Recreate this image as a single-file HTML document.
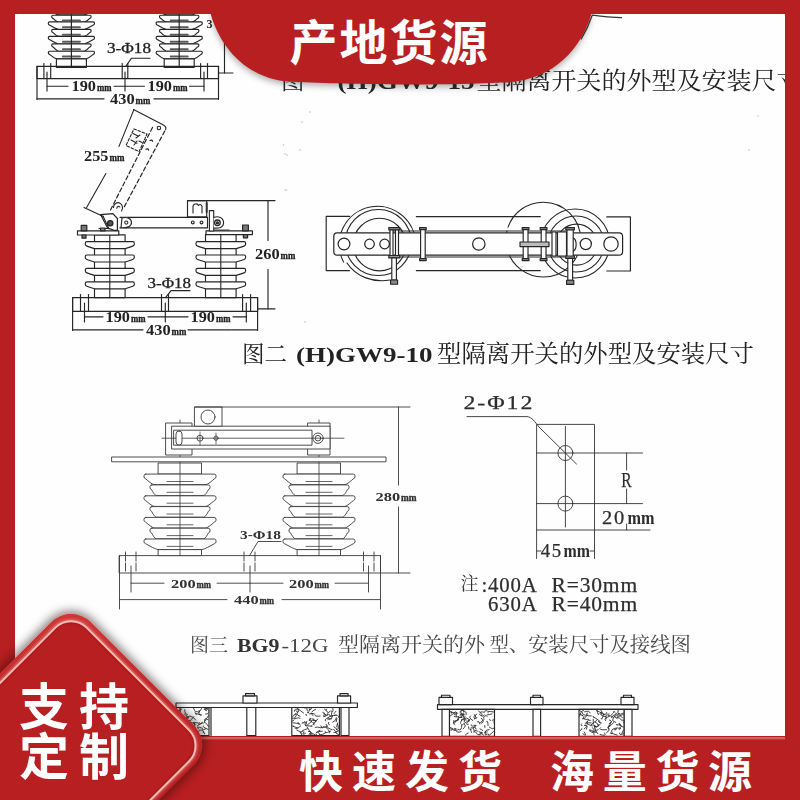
<!DOCTYPE html>
<html><head><meta charset="utf-8"><title>GW9</title>
<style>
html,body{margin:0;padding:0}
body{width:800px;height:800px;overflow:hidden;position:relative;background:#fefefe;font-family:"Liberation Serif",serif}
svg{position:absolute;left:0;top:0;display:block}
#frame{position:absolute;left:0;top:0;width:770px;height:722px;border-style:solid;border-color:#b81f20;border-width:14px 15px 64px 15px;pointer-events:none}
#badge{position:absolute;left:-30.5px;top:643.5px;width:202px;height:202px;border-radius:28px;transform:rotate(45deg);background:linear-gradient(135deg,#cf3a38 0%,#c12626 35%,#b21d1e 100%);box-shadow:0 0 10px 3px rgba(30,10,10,.5)}
#badge i{position:absolute;left:5.5px;top:5.5px;right:5.5px;bottom:5.5px;border-radius:23px;border:2px solid #f4bab5;background:#b81f20;box-shadow:0 0 3px 1px rgba(255,200,200,.45),inset 0 0 3px rgba(110,0,0,.5)}
</style></head><body>
<svg id="dw" width="800" height="800" viewBox="0 0 800 800"><g fill="none" stroke="#262626" stroke-width="1.15" stroke-linecap="round" stroke-linejoin="round" style="filter:blur(.35px)">
<path d="M49.6 7.3H93.2Q94.5 7.3 94.5 8.6L94.5 8.8Q94.5 10.2 92.9 10.7C89.95 12.46 86.62 14.3 84.4 14.9H58.4C56.18 14.3 52.85 12.46 49.9 10.7Q48.3 10.2 48.3 8.8L48.3 8.6Q48.3 7.3 49.6 7.3Z" fill="#fefefe"/><path d="M53 15.2H89.8Q91.1 15.2 91.1 16.5L91.1 16.7Q91.1 18.1 89.5 18.6C88.09 20.11 85.87 21.6 84.4 22.2H58.4C56.93 21.6 54.72 20.11 53.3 18.6Q51.7 18.1 51.7 16.7L51.7 16.5Q51.7 15.2 53 15.2Z" fill="#fefefe"/><path d="M49.6 21.9H93.2Q94.5 21.9 94.5 23.2L94.5 23.4Q94.5 24.8 92.9 25.3C89.95 27.06 86.62 28.9 84.4 29.5H58.4C56.18 28.9 52.85 27.06 49.9 25.3Q48.3 24.8 48.3 23.4L48.3 23.2Q48.3 21.9 49.6 21.9Z" fill="#fefefe"/><path d="M53 29.4H89.8Q91.1 29.4 91.1 30.7L91.1 30.9Q91.1 32.3 89.5 32.8C88.09 34.31 85.87 35.8 84.4 36.4H58.4C56.93 35.8 54.72 34.31 53.3 32.8Q51.7 32.3 51.7 30.9L51.7 30.7Q51.7 29.4 53 29.4Z" fill="#fefefe"/><path d="M49.6 36.4H93.2Q94.5 36.4 94.5 37.7L94.5 37.9Q94.5 39.3 92.9 39.8C89.95 41.56 86.62 43.4 84.4 44H58.4C56.18 43.4 52.85 41.56 49.9 39.8Q48.3 39.3 48.3 37.9L48.3 37.7Q48.3 36.4 49.6 36.4Z" fill="#fefefe"/><path d="M53 43.8H89.8Q91.1 43.8 91.1 45.1L91.1 45.3Q91.1 46.7 89.5 47.2C88.09 48.88 85.87 50.6 84.4 51.2H58.4C56.93 50.6 54.72 48.88 53.3 47.2Q51.7 46.7 51.7 45.3L51.7 45.1Q51.7 43.8 53 43.8Z" fill="#fefefe"/><path d="M49.6 51.2H93.2Q94.5 51.2 94.5 52.5L94.5 52.7Q94.5 54.1 92.9 54.6C90.86 56.36 88.18 58.2 86.4 58.8H56.4C54.62 58.2 51.95 56.36 49.9 54.6Q48.3 54.1 48.3 52.7L48.3 52.5Q48.3 51.2 49.6 51.2Z" fill="#fefefe"/><path d="M62.9 12.7L79.9 12.7" stroke-width="2.0" stroke="#5a5a5a"/><path d="M62.9 20.6L79.9 20.6" stroke-width="2.0" stroke="#5a5a5a"/><path d="M62.9 27.3L79.9 27.3" stroke-width="2.0" stroke="#5a5a5a"/><path d="M62.9 34.8L79.9 34.8" stroke-width="2.0" stroke="#5a5a5a"/><path d="M62.9 41.8L79.9 41.8" stroke-width="2.0" stroke="#5a5a5a"/><path d="M62.9 49.2L79.9 49.2" stroke-width="2.0" stroke="#5a5a5a"/><path d="M62.9 56.6L79.9 56.6" stroke-width="2.0" stroke="#5a5a5a"/><rect x="56.4" y="58.8" width="30" height="8.7" fill="#fefefe"/><path d="M71.4 14L71.4 67.5" stroke-width="1.2"/><path d="M157.4 7.3H201Q202.3 7.3 202.3 8.6L202.3 8.8Q202.3 10.2 200.7 10.7C197.75 12.46 194.42 14.3 192.2 14.9H166.2C163.98 14.3 160.64 12.46 157.7 10.7Q156.1 10.2 156.1 8.8L156.1 8.6Q156.1 7.3 157.4 7.3Z" fill="#fefefe"/><path d="M160.8 15.2H197.6Q198.9 15.2 198.9 16.5L198.9 16.7Q198.9 18.1 197.3 18.6C195.88 20.11 193.67 21.6 192.2 22.2H166.2C164.73 21.6 162.51 20.11 161.1 18.6Q159.5 18.1 159.5 16.7L159.5 16.5Q159.5 15.2 160.8 15.2Z" fill="#fefefe"/><path d="M157.4 21.9H201Q202.3 21.9 202.3 23.2L202.3 23.4Q202.3 24.8 200.7 25.3C197.75 27.06 194.42 28.9 192.2 29.5H166.2C163.98 28.9 160.64 27.06 157.7 25.3Q156.1 24.8 156.1 23.4L156.1 23.2Q156.1 21.9 157.4 21.9Z" fill="#fefefe"/><path d="M160.8 29.4H197.6Q198.9 29.4 198.9 30.7L198.9 30.9Q198.9 32.3 197.3 32.8C195.88 34.31 193.67 35.8 192.2 36.4H166.2C164.73 35.8 162.51 34.31 161.1 32.8Q159.5 32.3 159.5 30.9L159.5 30.7Q159.5 29.4 160.8 29.4Z" fill="#fefefe"/><path d="M157.4 36.4H201Q202.3 36.4 202.3 37.7L202.3 37.9Q202.3 39.3 200.7 39.8C197.75 41.56 194.42 43.4 192.2 44H166.2C163.98 43.4 160.64 41.56 157.7 39.8Q156.1 39.3 156.1 37.9L156.1 37.7Q156.1 36.4 157.4 36.4Z" fill="#fefefe"/><path d="M160.8 43.8H197.6Q198.9 43.8 198.9 45.1L198.9 45.3Q198.9 46.7 197.3 47.2C195.88 48.88 193.67 50.6 192.2 51.2H166.2C164.73 50.6 162.51 48.88 161.1 47.2Q159.5 46.7 159.5 45.3L159.5 45.1Q159.5 43.8 160.8 43.8Z" fill="#fefefe"/><path d="M157.4 51.2H201Q202.3 51.2 202.3 52.5L202.3 52.7Q202.3 54.1 200.7 54.6C198.65 56.36 195.98 58.2 194.2 58.8H164.2C162.42 58.2 159.75 56.36 157.7 54.6Q156.1 54.1 156.1 52.7L156.1 52.5Q156.1 51.2 157.4 51.2Z" fill="#fefefe"/><path d="M170.7 12.7L187.7 12.7" stroke-width="2.0" stroke="#5a5a5a"/><path d="M170.7 20.6L187.7 20.6" stroke-width="2.0" stroke="#5a5a5a"/><path d="M170.7 27.3L187.7 27.3" stroke-width="2.0" stroke="#5a5a5a"/><path d="M170.7 34.8L187.7 34.8" stroke-width="2.0" stroke="#5a5a5a"/><path d="M170.7 41.8L187.7 41.8" stroke-width="2.0" stroke="#5a5a5a"/><path d="M170.7 49.2L187.7 49.2" stroke-width="2.0" stroke="#5a5a5a"/><path d="M170.7 56.6L187.7 56.6" stroke-width="2.0" stroke="#5a5a5a"/><rect x="164.2" y="58.8" width="30" height="8.7" fill="#fefefe"/><path d="M179.2 14L179.2 67.5" stroke-width="1.2"/><path d="M37 66.3H218.5V78.6H37Z"/><path d="M37 66.3L37 99.5"/><path d="M218.5 66.3L218.5 99.5"/><path d="M43.9 63.5L43.9 78.6"/><path d="M50.7 63.5L50.7 78.6"/><path d="M122.2 63.5L122.2 78.6"/><path d="M127.8 63.5L127.8 78.6"/><path d="M200.6 63.5L200.6 78.6"/><path d="M207.5 63.5L207.5 78.6"/><path d="M47 72L47 91"/><path d="M125 72L125 91"/><path d="M204 72L204 91"/><path d="M47 86.2L68 86.2"/><path d="M114 86.2L125 86.2"/><path d="M125 86.2L144.5 86.2"/><path d="M189.5 86.2L204 86.2"/><path d="M37 98.8L104 98.8"/><path d="M154 98.8L218.5 98.8"/><text x="71.5" y="91.2" font-size="15.5" font-weight="bold" font-family="Liberation Serif" fill="#222" stroke="none" textLength="24.4" lengthAdjust="spacingAndGlyphs">190</text><text x="96.9" y="91.2" font-size="10.85" font-weight="bold" font-family="Liberation Serif" fill="#222" stroke="none" textLength="14.6" lengthAdjust="spacingAndGlyphs" style="stroke:#222;stroke-width:.35px">mm</text><text x="147.5" y="91.2" font-size="15.5" font-weight="bold" font-family="Liberation Serif" fill="#222" stroke="none" textLength="24.4" lengthAdjust="spacingAndGlyphs">190</text><text x="172.9" y="91.2" font-size="10.85" font-weight="bold" font-family="Liberation Serif" fill="#222" stroke="none" textLength="14.6" lengthAdjust="spacingAndGlyphs" style="stroke:#222;stroke-width:.35px">mm</text><text x="110" y="103.6" font-size="15.5" font-weight="bold" font-family="Liberation Serif" fill="#222" stroke="none" textLength="24.6" lengthAdjust="spacingAndGlyphs">430</text><text x="135.6" y="103.6" font-size="10.85" font-weight="bold" font-family="Liberation Serif" fill="#222" stroke="none" textLength="14.8" lengthAdjust="spacingAndGlyphs" style="stroke:#222;stroke-width:.35px">mm</text><text x="107" y="52.6" font-size="14.5" font-weight="normal" font-family="Liberation Serif" fill="#222" stroke="none" textLength="44" lengthAdjust="spacingAndGlyphs" style="stroke:#222;stroke-width:0.3px">3-Φ18</text><path d="M150 58.2H131.5L126 66"/><path d="M224.5 14L224.5 73"/><path d="M218.5 73L233 73"/><text x="206.5" y="28" font-size="13" font-weight="bold" font-family="Liberation Serif" fill="#222" stroke="none" textLength="6" lengthAdjust="spacingAndGlyphs">3</text><path d="M72.6 297.6H257.6V311.4H72.6Z"/><path d="M72.6 297.6L72.6 330.5"/><path d="M257.6 297.6L257.6 330.5"/><path d="M80.5 294.5L80.5 311.4"/><path d="M88.5 294.5L88.5 311.4"/><path d="M161.5 294.5L161.5 311.4"/><path d="M168.5 294.5L168.5 311.4"/><path d="M242.6 294.5L242.6 311.4"/><path d="M250.6 294.5L250.6 311.4"/><path d="M84.5 303L84.5 322"/><path d="M165.3 303L165.3 322"/><path d="M246.3 303L246.3 322"/><path d="M84.5 316.8L103 316.8"/><path d="M148 316.8L165.3 316.8"/><path d="M165.3 316.8L188 316.8"/><path d="M233 316.8L246.3 316.8"/><path d="M72.6 329.8L143 329.8"/><path d="M188 329.8L257.6 329.8"/><text x="105.5" y="321.6" font-size="15.5" font-weight="bold" font-family="Liberation Serif" fill="#222" stroke="none" textLength="24.4" lengthAdjust="spacingAndGlyphs">190</text><text x="130.9" y="321.6" font-size="10.85" font-weight="bold" font-family="Liberation Serif" fill="#222" stroke="none" textLength="14.6" lengthAdjust="spacingAndGlyphs" style="stroke:#222;stroke-width:.35px">mm</text><text x="190.5" y="321.6" font-size="15.5" font-weight="bold" font-family="Liberation Serif" fill="#222" stroke="none" textLength="24.4" lengthAdjust="spacingAndGlyphs">190</text><text x="215.9" y="321.6" font-size="10.85" font-weight="bold" font-family="Liberation Serif" fill="#222" stroke="none" textLength="14.6" lengthAdjust="spacingAndGlyphs" style="stroke:#222;stroke-width:.35px">mm</text><text x="146" y="334.6" font-size="15.5" font-weight="bold" font-family="Liberation Serif" fill="#222" stroke="none" textLength="24.6" lengthAdjust="spacingAndGlyphs">430</text><text x="171.6" y="334.6" font-size="10.85" font-weight="bold" font-family="Liberation Serif" fill="#222" stroke="none" textLength="14.8" lengthAdjust="spacingAndGlyphs" style="stroke:#222;stroke-width:.35px">mm</text><text x="147.5" y="287.6" font-size="14.5" font-weight="normal" font-family="Liberation Serif" fill="#222" stroke="none" textLength="43.5" lengthAdjust="spacingAndGlyphs" style="stroke:#222;stroke-width:0.3px">3-Φ18</text><path d="M190 290.6H171L165.5 297.6"/><rect x="94.5" y="234.8" width="30.6" height="62.8" fill="#fefefe"/><path d="M86.9 241.6H132.7Q134.3 241.6 134.3 243.2L134.3 244.2Q134.3 245.6 132.7 246.1C130.16 247.15 127.12 248 125.1 248.6H94.5C92.48 248 89.44 247.15 86.9 246.1Q85.3 245.6 85.3 244.2L85.3 243.2Q85.3 241.6 86.9 241.6Z" fill="#fefefe"/><path d="M86.9 255H132.7Q134.3 255 134.3 256.6L134.3 257.6Q134.3 259 132.7 259.5C130.16 260.55 127.12 261.4 125.1 262H94.5C92.48 261.4 89.44 260.55 86.9 259.5Q85.3 259 85.3 257.6L85.3 256.6Q85.3 255 86.9 255Z" fill="#fefefe"/><path d="M86.9 268.4H132.7Q134.3 268.4 134.3 270L134.3 271Q134.3 272.4 132.7 272.9C130.16 273.95 127.12 274.8 125.1 275.4H94.5C92.48 274.8 89.44 273.95 86.9 272.9Q85.3 272.4 85.3 271L85.3 270Q85.3 268.4 86.9 268.4Z" fill="#fefefe"/><path d="M86.9 281.8H132.7Q134.3 281.8 134.3 283.4L134.3 284.4Q134.3 285.8 132.7 286.3C130.16 287.35 127.12 288.2 125.1 288.8H94.5C92.48 288.2 89.44 287.35 86.9 286.3Q85.3 285.8 85.3 284.4L85.3 283.4Q85.3 281.8 86.9 281.8Z" fill="#fefefe"/><path d="M109.8 234.8L109.8 297.6" stroke-width="1.1"/><rect x="205.5" y="234.4" width="30.6" height="63.2" fill="#fefefe"/><path d="M197.6 241.6H244Q245.6 241.6 245.6 243.2L245.6 244.2Q245.6 245.6 244 246.1C241.33 247.15 238.19 248 236.1 248.6H205.5C203.41 248 200.28 247.15 197.6 246.1Q196 245.6 196 244.2L196 243.2Q196 241.6 197.6 241.6Z" fill="#fefefe"/><path d="M197.6 255H244Q245.6 255 245.6 256.6L245.6 257.6Q245.6 259 244 259.5C241.33 260.55 238.19 261.4 236.1 262H205.5C203.41 261.4 200.28 260.55 197.6 259.5Q196 259 196 257.6L196 256.6Q196 255 197.6 255Z" fill="#fefefe"/><path d="M197.6 268.4H244Q245.6 268.4 245.6 270L245.6 271Q245.6 272.4 244 272.9C241.33 273.95 238.19 274.8 236.1 275.4H205.5C203.41 274.8 200.28 273.95 197.6 272.9Q196 272.4 196 271L196 270Q196 268.4 197.6 268.4Z" fill="#fefefe"/><path d="M197.6 281.8H244Q245.6 281.8 245.6 283.4L245.6 284.4Q245.6 285.8 244 286.3C241.33 287.35 238.19 288.2 236.1 288.8H205.5C203.41 288.2 200.28 287.35 197.6 286.3Q196 285.8 196 284.4L196 283.4Q196 281.8 197.6 281.8Z" fill="#fefefe"/><path d="M220.8 234.4L220.8 297.6" stroke-width="1.1"/><path d="M77.5 230.8H118.8V235H77.5Z" fill="#fefefe"/><path d="M206 230.8H252.4V234.6H206Z" fill="#fefefe"/><rect x="81.2" y="225.4" width="5.6" height="5.4" stroke-width="1.2" fill="#777"/><rect x="82" y="235" width="4" height="3.2" stroke-width="1.2" fill="#777"/><rect x="242.6" y="225" width="5.8" height="5.8" stroke-width="1.2" fill="#777"/><rect x="243.4" y="234.6" width="4.2" height="3.2" stroke-width="1.2" fill="#777"/><path d="M120 217.3H207.5V227.8H120" fill="#fefefe"/><path d="M122 218C127 216.5 131.5 218.5 131.5 222.6C131.5 226.5 127 228.5 121 227.5Z" fill="#fefefe"/><circle cx="126.3" cy="222.6" r="1.6" stroke-width="1.1"/><circle cx="192.8" cy="222.4" r="1.4"/><circle cx="201.5" cy="222.4" r="1.4"/><path d="M100.6 214.6L112.9 213.6L117.4 218.5V230.4H114L107.4 227.8Z" stroke-width="1.2" fill="#fefefe"/><path d="M103 216L109 229" stroke-width="1.1"/><circle cx="110.2" cy="223.2" r="2.6" stroke-width="1.4" fill="#555"/><path d="M99 228.5H108" stroke-width="1.2"/><rect x="100.5" y="228" width="4.5" height="2.8" fill="#888"/><path d="M187.5 200.6H206.7V216.8H187.5Z" fill="#fefefe"/><path d="M193 213V206.5C193 203.5 197.5 203 198.5 205.5C200 203.5 203 205 202 208.5V213" stroke-width="1.1"/><path d="M206.7 203V212" stroke-width="2" stroke="#333"/><path d="M209.4 210.6H213.7V231H209.4Z" stroke-width="1.1" fill="#fefefe"/><path d="M213.7 217.5C218 215.5 223.6 217.5 223.6 222.8C223.6 227 220 228.5 213.7 228" stroke-width="1.1" fill="#fefefe"/><circle cx="217.4" cy="222.8" r="2.8" stroke-width="1.3"/><circle cx="217.4" cy="222.8" r="1.1" fill="#444"/><path d="M214 230.2H229" stroke-width="1.6" stroke="#444"/><path d="M110.5 210L153.1 126.3" stroke-width="1.2" stroke-dasharray="4.2 2.6"/><path d="M124.3 206.8L165.6 129.5" stroke-width="1.2" stroke-dasharray="4.2 2.6"/><path d="M133.5 109.6L162.5 124.6C165.5 126 166.6 127.6 165.6 129.8" stroke-width="1.1"/><circle cx="158.9" cy="128" r="1.7" stroke-width="1.1"/><path d="M113.5 207.5C113.5 203.5 117.5 201.5 120.3 203.4C123 205.3 123 208.8 121.5 211" stroke-width="1.1"/><path d="M116.8 208.3C117 206.4 118.8 205.8 119.8 207"/><path d="M133.9 128.9L147 134.1L139.1 151.6L126 145.5Z" stroke-width="1.1" stroke-dasharray="2.6 1.8"/><path d="M133 133.5l5 2.4M136 138l4 -3M131 140l6 3.2M134 145l3 -4M139 141l3 1.5" stroke-width="1.1"/><path d="M150 140.5q2 -1.2 2.6 .8M146 149.3q2 -1.2 2.6 .8" stroke-width="1.2"/><path d="M133.9 109.6L119 146.4" stroke-width="1.1"/><path d="M105.9 173.5L86.6 207.6" stroke-width="1.1"/><path d="M84 207.4L103.3 216.4" stroke-width="1.1"/><text x="84" y="161.4" font-size="15.5" font-weight="bold" font-family="Liberation Serif" fill="#222" stroke="none" textLength="24.4" lengthAdjust="spacingAndGlyphs">255</text><text x="109.4" y="161.4" font-size="10.85" font-weight="bold" font-family="Liberation Serif" fill="#222" stroke="none" textLength="15" lengthAdjust="spacingAndGlyphs" style="stroke:#222;stroke-width:.35px">mm</text><path d="M187.5 200.6L275 200.6"/><path d="M257.6 308.8L275 308.8"/><path d="M268 200.6L268 240.5"/><path d="M268 269.5L268 308.8"/><text x="255" y="258.8" font-size="15.5" font-weight="bold" font-family="Liberation Serif" fill="#222" stroke="none" textLength="24.6" lengthAdjust="spacingAndGlyphs">260</text><text x="280.6" y="258.8" font-size="10.85" font-weight="bold" font-family="Liberation Serif" fill="#222" stroke="none" textLength="14.8" lengthAdjust="spacingAndGlyphs" style="stroke:#222;stroke-width:.35px">mm</text><path d="M349.5 216.4H326.2V270.6H349.5"/><path d="M416.3 216.6H540.3M416.3 270.6H540.3"/><path d="M606.8 216.9H630.4V271H606.8"/><path d="M343.5 262A38.2 38.2 0 1 1 415.5 248" stroke-width="1.1"/><circle cx="378.3" cy="242.5" r="33" stroke-width="1.1"/><circle cx="379.5" cy="244.6" r="26.3" stroke-width="1.1"/><path d="M347 263C356 277 374 283 390 280"/><circle cx="543.3" cy="239.6" r="37.4" stroke-width="1.1" stroke-dasharray="108 4 5 4 5 4 200"/><circle cx="575.2" cy="243.5" r="34.5" stroke-width="1.1"/><circle cx="576" cy="244" r="28" stroke-width="1.1"/><circle cx="576.6" cy="244.6" r="20.5" stroke-width="1.1"/><path d="M337 232.8H619Q622.6 232.8 622.6 236.5V251.5Q622.6 255.2 619 255.2H337Q333.8 255.2 333.8 251.5V236.5Q333.8 232.8 337 232.8Z" stroke-width="1.2" fill="#fefefe"/><path d="M390 231H573M390 257H573" stroke-width="1.1"/><circle cx="344" cy="244" r="5.9" stroke-width="1.2" fill="#fefefe"/><circle cx="369.5" cy="244" r="4.8" stroke-width="1.2" fill="#fefefe"/><circle cx="384.6" cy="244" r="4.8" stroke-width="1.2" fill="#fefefe"/><circle cx="478.8" cy="244" r="6.2" stroke-width="1.2" fill="#fefefe"/><circle cx="585.8" cy="244" r="5.6" stroke-width="1.2" fill="#fefefe"/><circle cx="611" cy="244" r="7.2" stroke-width="1.2" fill="#fefefe"/><rect x="390" y="229" width="3" height="27" fill="#fefefe"/><rect x="395.5" y="229" width="3" height="27" fill="#fefefe"/><rect x="388.8" y="227.6" width="11" height="2.2" fill="#999"/><rect x="388.8" y="255.5" width="11" height="2.4" fill="#999"/><rect x="391.8" y="258" width="4.6" height="22" fill="#fefefe"/><rect x="390.6" y="280" width="7" height="4.2" fill="#888"/><rect x="420.6" y="229" width="4.6" height="30" fill="#fefefe"/><rect x="419.6" y="227.6" width="6.6" height="2" fill="#999"/><rect x="419.6" y="258.6" width="6.6" height="2" fill="#999"/><rect x="523.2" y="229" width="4.8" height="30" fill="#fefefe"/><rect x="522.2" y="227.6" width="6.8" height="2" fill="#999"/><rect x="522.2" y="258.6" width="6.8" height="2" fill="#999"/><rect x="541.2" y="229" width="4.8" height="30" fill="#fefefe"/><rect x="540.2" y="227.6" width="6.8" height="2" fill="#999"/><rect x="540.2" y="258.6" width="6.8" height="2" fill="#999"/><rect x="520" y="242" width="29" height="4.6" fill="#bbb"/><rect x="552" y="232" width="4" height="24" fill="#fefefe"/><rect x="557.5" y="232" width="9" height="24" fill="#fefefe"/><rect x="567" y="229" width="6.2" height="28" fill="#fefefe"/><rect x="565.8" y="227.6" width="8.6" height="2.2" fill="#999"/><rect x="565.8" y="256" width="8.6" height="2.4" fill="#999"/><rect x="567.8" y="258.4" width="4.8" height="22" fill="#fefefe"/><rect x="566.6" y="280.2" width="7.2" height="4.2" fill="#888"/><path d="M573.5 238C577 240 577 249 573.5 251"/><g stroke="#3a3a3a" stroke-width="0.9"><path d="M119.5 555.6H380.5V573H119.5Z"/><path d="M119.5 555.6L119.5 609"/><path d="M380.5 555.6L380.5 609"/><path d="M125.5 552L125.5 571" stroke-dasharray="9 2"/><path d="M136 552L136 571" stroke-dasharray="9 2"/><path d="M244 552L244 571" stroke-dasharray="9 2"/><path d="M255 552L255 571" stroke-dasharray="9 2"/><path d="M363.5 552L363.5 571" stroke-dasharray="9 2"/><path d="M374 552L374 571" stroke-dasharray="9 2"/><path d="M131 566L131 592"/><path d="M250 566L250 592"/><path d="M368.5 566L368.5 592"/><path d="M131 583.2L164 583.2"/><path d="M217 583.2L250 583.2"/><path d="M250 583.2L283 583.2"/><path d="M335 583.2L368.5 583.2"/><path d="M119.5 599.6L227 599.6"/><path d="M282 599.6L380.5 599.6"/><rect x="158.5" y="463" width="43" height="11" stroke-width="0.9" fill="#fefefe"/><path d="M145.8 474.1H214.2Q216 474.1 216 475.9L216 476.9Q216 478.3 214.4 478.8C211.5 481.28 208.2 484.1 206 484.7H154C151.8 484.1 148.5 481.28 145.6 478.8Q144 478.3 144 476.9L144 475.9Q144 474.1 145.8 474.1Z" stroke-width="0.9" fill="#fefefe"/><path d="M151.8 484.9H208.2Q210 484.9 210 486.7L210 487.7Q210 489.1 208.4 489.6C207.3 492.08 205.32 494.9 204 495.5H156C154.68 494.9 152.7 492.08 151.6 489.6Q150 489.1 150 487.7L150 486.7Q150 484.9 151.8 484.9Z" stroke-width="0.9" fill="#fefefe"/><path d="M145.8 495.8H214.2Q216 495.8 216 497.6L216 498.6Q216 500 214.4 500.5C211.5 502.98 208.2 505.8 206 506.4H154C151.8 505.8 148.5 502.98 145.6 500.5Q144 500 144 498.6L144 497.6Q144 495.8 145.8 495.8Z" stroke-width="0.9" fill="#fefefe"/><path d="M151.8 506.6H208.2Q210 506.6 210 508.4L210 509.4Q210 510.8 208.4 511.3C207.3 513.78 205.32 516.6 204 517.2H156C154.68 516.6 152.7 513.78 151.6 511.3Q150 510.8 150 509.4L150 508.4Q150 506.6 151.8 506.6Z" stroke-width="0.9" fill="#fefefe"/><path d="M145.8 517.4H214.2Q216 517.4 216 519.2L216 520.2Q216 521.6 214.4 522.1C211.5 524.58 208.2 527.4 206 528H154C151.8 527.4 148.5 524.58 145.6 522.1Q144 521.6 144 520.2L144 519.2Q144 517.4 145.8 517.4Z" stroke-width="0.9" fill="#fefefe"/><path d="M151.8 528.2H208.2Q210 528.2 210 530L210 531Q210 532.4 208.4 532.9C207.3 535.38 205.32 538.2 204 538.8H156C154.68 538.2 152.7 535.38 151.6 532.9Q150 532.4 150 531L150 530Q150 528.2 151.8 528.2Z" stroke-width="0.9" fill="#fefefe"/><path d="M145.8 539H214.2Q216 539 216 540.8L216 541.8Q216 543.2 214.4 543.7C209.7 546.18 205.08 549 202 549.6H158C154.92 549 150.3 546.18 145.6 543.7Q144 543.2 144 541.8L144 540.8Q144 539 145.8 539Z" stroke-width="0.9" fill="#fefefe"/><path d="M167 481.5L193 481.5" stroke="#555"/><path d="M167 492.3L193 492.3" stroke="#555"/><path d="M167 503.2L193 503.2" stroke="#555"/><path d="M167 514L193 514" stroke="#555"/><path d="M167 524.8L193 524.8" stroke="#555"/><path d="M167 535.6L193 535.6" stroke="#555"/><path d="M167 546.4L193 546.4" stroke="#555"/><rect x="158.5" y="549.6" width="43" height="6" stroke-width="0.9" fill="#fefefe"/><path d="M180 420L180 555.6" stroke-width="0.8"/><rect x="297.5" y="463" width="43" height="11" stroke-width="0.9" fill="#fefefe"/><path d="M284.8 474.1H353.2Q355 474.1 355 475.9L355 476.9Q355 478.3 353.4 478.8C350.5 481.28 347.2 484.1 345 484.7H293C290.8 484.1 287.5 481.28 284.6 478.8Q283 478.3 283 476.9L283 475.9Q283 474.1 284.8 474.1Z" stroke-width="0.9" fill="#fefefe"/><path d="M290.8 484.9H347.2Q349 484.9 349 486.7L349 487.7Q349 489.1 347.4 489.6C346.3 492.08 344.32 494.9 343 495.5H295C293.68 494.9 291.7 492.08 290.6 489.6Q289 489.1 289 487.7L289 486.7Q289 484.9 290.8 484.9Z" stroke-width="0.9" fill="#fefefe"/><path d="M284.8 495.8H353.2Q355 495.8 355 497.6L355 498.6Q355 500 353.4 500.5C350.5 502.98 347.2 505.8 345 506.4H293C290.8 505.8 287.5 502.98 284.6 500.5Q283 500 283 498.6L283 497.6Q283 495.8 284.8 495.8Z" stroke-width="0.9" fill="#fefefe"/><path d="M290.8 506.6H347.2Q349 506.6 349 508.4L349 509.4Q349 510.8 347.4 511.3C346.3 513.78 344.32 516.6 343 517.2H295C293.68 516.6 291.7 513.78 290.6 511.3Q289 510.8 289 509.4L289 508.4Q289 506.6 290.8 506.6Z" stroke-width="0.9" fill="#fefefe"/><path d="M284.8 517.4H353.2Q355 517.4 355 519.2L355 520.2Q355 521.6 353.4 522.1C350.5 524.58 347.2 527.4 345 528H293C290.8 527.4 287.5 524.58 284.6 522.1Q283 521.6 283 520.2L283 519.2Q283 517.4 284.8 517.4Z" stroke-width="0.9" fill="#fefefe"/><path d="M290.8 528.2H347.2Q349 528.2 349 530L349 531Q349 532.4 347.4 532.9C346.3 535.38 344.32 538.2 343 538.8H295C293.68 538.2 291.7 535.38 290.6 532.9Q289 532.4 289 531L289 530Q289 528.2 290.8 528.2Z" stroke-width="0.9" fill="#fefefe"/><path d="M284.8 539H353.2Q355 539 355 540.8L355 541.8Q355 543.2 353.4 543.7C348.7 546.18 344.08 549 341 549.6H297C293.92 549 289.3 546.18 284.6 543.7Q283 543.2 283 541.8L283 540.8Q283 539 284.8 539Z" stroke-width="0.9" fill="#fefefe"/><path d="M306 481.5L332 481.5" stroke="#555"/><path d="M306 492.3L332 492.3" stroke="#555"/><path d="M306 503.2L332 503.2" stroke="#555"/><path d="M306 514L332 514" stroke="#555"/><path d="M306 524.8L332 524.8" stroke="#555"/><path d="M306 535.6L332 535.6" stroke="#555"/><path d="M306 546.4L332 546.4" stroke="#555"/><rect x="297.5" y="549.6" width="43" height="6" stroke-width="0.9" fill="#fefefe"/><path d="M319 420L319 555.6" stroke-width="0.8"/><path d="M112 457H386V461.8H112Z" fill="#fefefe"/><rect x="166" y="423" width="26" height="32" stroke-width="0.9" fill="#fefefe"/><rect x="308" y="423" width="22" height="32" stroke-width="0.9" fill="#fefefe"/><rect x="172" y="426.2" width="158" height="22.8" stroke-width="0.9" fill="#fefefe"/><rect x="174" y="430.2" width="138" height="15" stroke-width="0.9"/><path d="M162 438.2L344 438.2" stroke-width="0.8"/><rect x="176" y="431" width="6" height="14" stroke-width="0.9" fill="#fefefe" rx="3"/><circle cx="200" cy="438.2" r="3" stroke-width="0.9"/><circle cx="216" cy="438.2" r="2.1" stroke-width="0.9"/><path d="M200 432L200 445" stroke-width="0.7"/><path d="M216 433L216 444" stroke-width="0.7"/><circle cx="318" cy="438.2" r="5.2" stroke-width="0.9"/><circle cx="318" cy="438.2" r="2.8" stroke-width="0.9"/><rect x="194.8" y="407" width="27.2" height="19.2" stroke-width="0.9" fill="#fefefe"/><circle cx="208" cy="417" r="7" stroke-width="0.9"/><path d="M194.8 407L410 407"/><path d="M398.5 407L398.5 485"/><path d="M398.5 507L398.5 573"/><path d="M380.5 573L410 573"/><path d="M281 541.5H258L249.5 555.6"/></g><text x="171" y="587.6" font-size="13.5" font-weight="bold" font-family="Liberation Serif" fill="#333" stroke="none" textLength="24.6" lengthAdjust="spacingAndGlyphs">200</text><text x="196.6" y="587.6" font-size="9.45" font-weight="bold" font-family="Liberation Serif" fill="#333" stroke="none" textLength="14.5" lengthAdjust="spacingAndGlyphs" style="stroke:#333;stroke-width:.35px">mm</text><text x="289" y="587.6" font-size="13.5" font-weight="bold" font-family="Liberation Serif" fill="#333" stroke="none" textLength="24.6" lengthAdjust="spacingAndGlyphs">200</text><text x="314.6" y="587.6" font-size="9.45" font-weight="bold" font-family="Liberation Serif" fill="#333" stroke="none" textLength="14.5" lengthAdjust="spacingAndGlyphs" style="stroke:#333;stroke-width:.35px">mm</text><text x="234" y="604" font-size="13.5" font-weight="bold" font-family="Liberation Serif" fill="#333" stroke="none" textLength="24.6" lengthAdjust="spacingAndGlyphs">440</text><text x="259.6" y="604" font-size="9.45" font-weight="bold" font-family="Liberation Serif" fill="#333" stroke="none" textLength="14.5" lengthAdjust="spacingAndGlyphs" style="stroke:#333;stroke-width:.35px">mm</text><text x="375.5" y="501" font-size="13.5" font-weight="bold" font-family="Liberation Serif" fill="#333" stroke="none" textLength="24.6" lengthAdjust="spacingAndGlyphs">280</text><text x="401.1" y="501" font-size="9.45" font-weight="bold" font-family="Liberation Serif" fill="#333" stroke="none" textLength="15.5" lengthAdjust="spacingAndGlyphs" style="stroke:#333;stroke-width:.35px">mm</text><text x="240" y="539.4" font-size="12.5" font-weight="bold" font-family="Liberation Serif" fill="#333" stroke="none" textLength="41" lengthAdjust="spacingAndGlyphs">3-Φ18</text><g stroke="#333" stroke-width="0.9"><path d="M536.6 558.5V424.4H594.5V558.5"/><path d="M565.4 426.5L565.4 527"/><path d="M536.6 453L642.5 453"/><path d="M536.6 503.6L642.5 503.6"/><path d="M536.6 530L650 530"/><circle cx="565.4" cy="453" r="7.5"/><circle cx="565.4" cy="503.6" r="7.5"/><path d="M467 416.6H527C532 417 535 422 539 427L576.5 464"/><path d="M626.6 453L626.6 470"/><path d="M626.6 489L626.6 503.6"/><path d="M626.6 524L626.6 530"/><path d="M536.6 551L541 551"/><path d="M590 551L594.5 551"/></g><text x="463.4" y="408.6" font-size="19.5" font-weight="normal" font-family="Liberation Serif" fill="#2e2e2e" stroke="none" textLength="71" lengthAdjust="spacingAndGlyphs" style="stroke:#2e2e2e;stroke-width:.25px" letter-spacing="1.6">2-Φ12</text><text x="621.2" y="486.5" font-size="20" font-weight="normal" font-family="Liberation Serif" fill="#2e2e2e" stroke="none" textLength="11" lengthAdjust="spacingAndGlyphs" style="stroke:#2e2e2e;stroke-width:.25px" letter-spacing="0.8">R</text><text x="602" y="524" font-size="18.5" font-weight="normal" font-family="Liberation Serif" fill="#2e2e2e" stroke="none" textLength="24" lengthAdjust="spacingAndGlyphs" style="stroke:#2e2e2e;stroke-width:.25px" letter-spacing="1.6">20</text><text x="627.5" y="524" font-size="18.5" font-weight="bold" font-family="Liberation Serif" fill="#2e2e2e" stroke="none" textLength="27" lengthAdjust="spacingAndGlyphs">mm</text><text x="540.8" y="557" font-size="18.5" font-weight="normal" font-family="Liberation Serif" fill="#2e2e2e" stroke="none" textLength="22" lengthAdjust="spacingAndGlyphs" style="stroke:#2e2e2e;stroke-width:.25px" letter-spacing="1.6">45</text><text x="563.5" y="557" font-size="18.5" font-weight="bold" font-family="Liberation Serif" fill="#2e2e2e" stroke="none" textLength="26.5" lengthAdjust="spacingAndGlyphs">mm</text><text x="481.5" y="591.6" font-size="20.5" font-weight="normal" font-family="Liberation Serif" fill="#2e2e2e" stroke="none" textLength="56" lengthAdjust="spacingAndGlyphs" style="stroke:#2e2e2e;stroke-width:.25px" letter-spacing="0.8">:400A</text><text x="551.5" y="591.6" font-size="20.5" font-weight="normal" font-family="Liberation Serif" fill="#2e2e2e" stroke="none" textLength="86.5" lengthAdjust="spacingAndGlyphs" style="stroke:#2e2e2e;stroke-width:.25px" letter-spacing="0.8">R=30mm</text><text x="488" y="611" font-size="20.5" font-weight="normal" font-family="Liberation Serif" fill="#2e2e2e" stroke="none" textLength="49.5" lengthAdjust="spacingAndGlyphs" style="stroke:#2e2e2e;stroke-width:.25px" letter-spacing="0.8">630A</text><text x="551.5" y="611" font-size="20.5" font-weight="normal" font-family="Liberation Serif" fill="#2e2e2e" stroke="none" textLength="86.5" lengthAdjust="spacingAndGlyphs" style="stroke:#2e2e2e;stroke-width:.25px" letter-spacing="0.8">R=40mm</text><path d="M176 703H357.4V707.5H176Z" fill="#fefefe"/><rect x="243" y="695.8" width="14" height="7.2" fill="#fefefe"/><rect x="245.5" y="693.6" width="9" height="2.2" fill="#fefefe"/><rect x="337.5" y="695.8" width="13.1" height="7.2" fill="#fefefe"/><rect x="340" y="693.6" width="8.1" height="2.2" fill="#fefefe"/><rect x="246.8" y="707.5" width="9" height="28" fill="#fefefe"/><rect x="341" y="707.5" width="8" height="28" fill="#fefefe"/><rect x="180" y="707.5" width="29" height="28" fill="#fefefe"/><path d="M184.63 730.53q2.64 -1.96 -0.05 -0.51M198.59 729.01q-4.06 -3.77 4.03 -0.67M201.58 708.55q-0.55 1.77 -3.25 4.45M205.34 709.3q-4.75 0.33 3.16 -1.19M186.85 719.48q-4.71 -2.23 -0.75 -0.04M187.29 714.5q-2.81 -0.32 -2.52 -4.79M203.61 722.97q1.42 -2.51 4.89 3.6M184.26 717.15q2.21 1.69 5.24 -0.78M203.41 725.93q-1.97 0.7 4.59 3.46M194.64 723.81q-4.65 -2.06 3.57 -0.86M185.67 722.77q2.03 1.4 -1.5 -0.61M194.73 728.74q0.21 -0.85 -0.12 -4.7M182.17 726.79q4.83 0.75 -1.28 -3.3M194.56 734.03q2.71 0.32 4.32 -2.68M194.87 733.26q0.78 -0.33 -2.77 0.48M206.84 708.65q2.84 2.56 1.66 2.41M202.85 721.99q0.61 -0.59 -5.33 3.7M196.39 713.7q0.05 -0.12 -1.72 -1.54M195.54 724.71q1.12 -0.33 -5.66 -2.7M185.78 723.7q3.61 2.39 3.57 3.16M187.89 730.39q1.73 -3.33 -5.8 -4.85M201.4 714.99q-3.91 1 -1.87 -4.3M185.31 722.21q-3.32 -1.82 2.54 -0.45M189.69 720.82q-4.76 -0.91 -0.95 -3.12M183.94 731.9q0.1 -2.33 1.27 3.1M181.56 708.96q-3.54 1.75 -1.06 2.05M199.31 722.66q-2.79 3.8 3.57 0.17M187.03 725.36q-1.05 0.61 -2.15 1.31M182.59 716.26q4.68 3 -2.09 3.59M189.38 732.92q2.44 -0.67 -2.97 -4.92M204.73 709.49q3.19 3.7 0.84 -1.49M204.43 733.82q2.04 0.07 -1.46 -1.53M186.56 726.03q-0.67 -2.45 -4.75 1.66M188.99 721.49q-1.75 2.97 4.8 -4.82M186.42 717.02q4.87 2.26 -1.93 -2.87M199.21 730.28q4.32 -1.25 4.59 1.87M194.08 734.12q-2.65 1.8 -4.98 -3.3M205.6 714.04q2.59 0.8 2.9 -1.32M190.19 716.07q3.67 0.83 5.45 3.87M184.65 722.83q-3.96 -3.69 -4.15 3.66M202.28 730.04q-1.59 0.92 3.38 -1.22M196.41 714.32q-4.18 -1.87 4.69 0.64M205.98 720.4q-2.23 2.3 2.52 -4.88M199.1 710.88q-3.85 3.08 -5.52 -2.6M207.68 719.45q-3.84 -2.66 -3.1 2.44M183.78 732.18q-1.22 3.76 4.91 -2.06M187.84 720.9q-4 1.22 -5.52 -4.89" stroke-width="0.9" stroke="#303030"/><path d="M211 707.5L211 735.5"/><rect x="291.8" y="707.5" width="47.6" height="28" fill="#fefefe"/><path d="M336.4 733.14q-4.43 -3.32 2.5 1.86M323.34 716.51q1.06 0.85 0.97 -3.42M312.44 718.73q2.23 3.96 5.39 0.44M313.09 715.47q-4.64 -3.78 -0.42 -1.82M310.13 731.69q0.26 0.48 -3.17 -4.76M307.63 712.05q0.1 3.99 2.09 -3.18M333.55 729.22q2.34 3.25 3.15 2.9M308.93 734.01q4.62 -2.71 3.05 0.99M313.84 722.29q-0.1 3.4 0.01 3.32M308.94 731.45q4 -0.31 0.81 3.55M325.8 721.15q-2.78 -1.4 2.39 -3.34M334.2 715.47q4.11 -1.52 4.7 2.06M315.79 721.96q1.51 0.7 -2.26 -2.92M316.14 732.79q1.23 -3.4 3.84 2.21M334.19 713.48q2.45 -3.53 1.83 -2.27M303.13 731.26q-3.94 0.18 4.25 -2.55M302.4 731.4q-0.77 1.74 -5.62 -1.38M300.64 725.99q-4.17 3.64 -5.7 2.29M293.76 715.15q3.13 -2.74 -1.46 1.91M310.38 709.62q4.9 -2.79 -5.56 -1.56M320.85 727.8q-3.87 -1.3 -5.63 -0.51M327.73 727.74q4.02 2.05 4.35 2.05M314.36 714.36q1.61 -1.47 -4.78 -0.52M332.69 711.82q0.85 -0.86 0.18 -3.56M336.56 715.24q1.06 -0.64 -5.78 0.58M299.21 709.98q-4.66 -2.71 -4.85 1.35M315.98 734.07q4.34 3.96 -3.21 -0.55M304.24 723.87q1.24 2.4 2.51 -2.43M312.09 722.18q-4.95 -3.72 -1.1 -3.89M325.8 714.76q-4 -2.55 -3.22 -2.83M316.55 720.57q-1.9 1.13 -3.45 4.07M336.72 727.45q-0.66 0.09 0.97 -4.49M311.86 722.15q-3.19 -3.25 3.63 -1.34M316.48 732.46q1.11 -1.68 5.8 -1.28M293.67 726.32q-3.99 -1.55 4.09 1.73M293.52 720.24q-0.89 -0.11 -1.22 0.89M296.16 715.89q-1.27 3.48 -3.86 2.55M301.57 723.36q-1.08 -0.29 3.04 -1.05M298.35 711.67q-4.19 2.8 1.69 4.6M324.38 709.14q1.59 2.22 2.68 -0.02M309.11 720.38q2.99 -1.85 0.32 -0.22M336.33 729.41q4.32 2.69 -2.44 -2.68M315.09 715.24q-0.72 1.43 5.02 0.86M330.09 710.99q-1.44 3.98 -4.24 -0.83M295.85 710.74q3.96 3.91 1.78 -2.74M306.32 714.52q1.71 1.45 -0.73 0.24M297.91 722.56q4.5 2.05 -4.85 0.17M325.42 715.19q3.95 -0.31 2.44 -0.96M338.18 728.85q0.73 -2.84 -0.71 -4.71M319.94 731.43q-3.2 0.08 -0.21 -0.95M325.2 732.85q2.05 -0.22 5.54 -1.69M326.8 725.62q2.62 2.82 -3.3 1.21M311.16 725.84q4.77 1.08 -5.86 -0.35M325.25 731.46q1.5 2.53 -5.79 3.54M326.06 724.27q4.05 3.08 -4.79 3.16M327.78 713.69q2.44 0.69 -3.7 3.04M299.09 724.42q-0.66 -1.97 0.79 -0.33M302.15 733.64q-4.27 -3.98 -0.17 1.36M322.82 728.12q-0.15 1.4 -1.98 -2.33M315.73 709.22q-4.2 2.03 -3.92 2.5M328.57 719.02q1.75 2.3 4.37 -3.65M300.21 718.42q-0.35 -1.64 -5.88 0.57M336.89 718.03q0.38 -0.94 -0.69 3.7M306.86 725.38q-0.16 0.31 4.98 -4.23M330.39 716.41q1.46 2.37 1.84 -1.07M331.14 710.92q1.33 -0.87 0.37 3.51M329.18 724.85q-1.92 -2.14 -0.51 -2.68M305.45 733.4q-3.88 2.55 -1.45 -1.35M307.32 710.51q-0.43 -2.67 -0.7 -2.08M333.59 732.47q-0.58 1.12 5.16 -1.74M297.34 714.68q-3.1 1.43 -1.51 -1.44M329.06 714.56q3.09 1.06 -1.2 3.24M308.41 731.34q4.26 0.02 2.28 3.66M326.66 728.03q3.69 3.48 3.04 4.79M306.1 724.68q1.71 -1.06 -1.26 -3.25M336.47 717.7q-0.23 3.15 -3.76 4.61M298.59 709.23q-1.49 -1.13 5.01 3.83M327.53 719.85q0.43 -2.11 4 -1.1" stroke-width="0.9" stroke="#303030"/><path d="M437.5 704.6H638V709.3H437.5Z" fill="#fefefe"/><rect x="439" y="697.4" width="13.5" height="7.2" fill="#fefefe"/><rect x="441.5" y="695.2" width="8.5" height="2.2" fill="#fefefe"/><rect x="530.5" y="697.4" width="12.5" height="7.2" fill="#fefefe"/><rect x="533" y="695.2" width="7.5" height="2.2" fill="#fefefe"/><rect x="621" y="697.4" width="13" height="7.2" fill="#fefefe"/><rect x="623.5" y="695.2" width="8" height="2.2" fill="#fefefe"/><rect x="442" y="709.3" width="7.5" height="27" fill="#fefefe"/><rect x="533" y="709.3" width="7.6" height="27" fill="#fefefe"/><rect x="624" y="709.3" width="8" height="27" fill="#fefefe"/><rect x="449.5" y="709.3" width="45" height="27" fill="#fefefe"/><path d="M460.73 723.47q-1.3 0.83 1.51 -4.34M451.07 730.57q-2.41 -2.13 5.95 -0.3M486.47 721.83q1.39 -2.8 1.62 3.68M473 728.24q1.71 -3.49 3.1 0.91M463.45 711.05q3.66 -0.22 2.63 3.79M481.21 732.59q-1.05 2.41 -0.66 2.41M488.29 712.66q-3.64 -2.26 5.59 -0.64M477.45 717.58q0.07 -0.91 -1.79 0.85M475.62 732.18q1.82 3.43 4.28 2.82M479.36 714.25q3.61 3.72 4.86 0.69M481.19 715.41q3.32 0.59 -2.58 -4.37M487.22 734.25q-4.11 2.4 -1.07 -3.49M463.14 728.9q3.73 -3.65 1.37 -4.55M481.39 718.31q3.81 3.85 0.07 4.99M463.82 712.16q1 -3.75 -3.63 -0.92M476.75 714.08q-4.58 2.94 -2.23 4.59M489.06 719.44q-0.4 0.16 1.73 0.96M474.55 725.31q4.41 0.06 -0.83 2.2M460.72 717.59q4.78 0.17 0.58 -4.89M468.35 724.34q-4.8 0.93 1.59 -4.4M477.48 721.58q1.79 -1.18 2.48 2.38M451.45 711.77q1.76 3.71 -1.45 -0.44M475.98 718.04q-1.36 -1.5 -1.57 0.96M463.42 719.43q2.72 -3.78 0.83 2.35M463.83 715.69q3.04 -2.09 -3.75 -0.65M480.52 712.76q-1.78 -1.33 4 -0.62M487.29 714.4q-1.63 1.2 4.62 -0.49M460.18 713.23q0.3 -2.47 3.68 3.38M458.39 717.04q3.07 1.14 3.68 -1.55M456.08 717.37q2.94 -1.83 -1.84 -0.83M468.55 720.21q4.21 -2.75 -5.94 4.43M488.34 734.18q-0.66 3.6 5.13 -2.78M482.56 730.55q1.63 0.15 -2.53 -1.59M460.28 711.95q0.89 -1.7 3.72 -2.15M489.36 727.09q4.24 3.17 4.64 0.77M451.07 728.34q-3.28 -1.6 1.95 0.25M468.29 733.02q1.12 -1.27 -2.97 1.98M471.02 729.23q-1.48 -2.42 0.42 3.17M457.87 729.46q4.22 2.45 3.88 -4.92M477.53 731.17q-4.5 -1.83 -2.78 0.27M468.69 721.74q2.76 -3.99 -5.34 -3.73M455.86 711.96q4.75 2.84 -4.97 0.02M464.08 717.91q-1.49 1.18 1.04 -1.39M458.72 718.26q-3.76 0.44 2.59 -1.2M453.94 714.62q-1.27 0.84 3.39 -1.2M484.95 725.37q-0.68 -1.02 -0.05 2.03M468.58 727.1q-0.39 -2.04 0.43 1.95M453.58 720.58q-0.74 3.04 5.24 -1.26M489.11 729.44q-2.38 -0.29 -4.52 3.13M478.98 731.77q2.92 1.34 2.8 0.64M454.93 724.52q-4.95 -2.85 3.29 -4.56M454.45 712.7q3.8 -2.57 -4.45 3.42M455.72 730.72q1.74 2.69 5.43 0.79M484.85 711.18q2.67 0.09 2.58 -1.38M482.71 732.92q-4.39 -1.41 0.77 2.08M460.91 714.65q-2.5 0.93 3.04 -1.06M466.3 719.9q-1.5 -0.65 -5 0M492.34 720.29q2.47 -2.72 1.66 2.56M479.48 722.81q-0.16 1.14 4.77 -3.51M454.62 728.41q4.17 0.14 -0.68 2.19M458.5 716.77q-3.01 0.68 -2.22 -2.68M480.22 733.37q-2.04 1.64 -1.04 1.63M475.64 716.77q-2.82 -3.82 -0.25 -1.17M457.91 719.02q-1.78 2.19 -4.28 4.91M471.12 724.8q-0.32 2.68 3.86 0.57M471.2 727.74q3.57 -0.8 2.8 4.6M470.6 715.86q-2.65 1.74 2.1 4.59M487.22 716.16q-3.1 -1.93 -3.75 2.05M487.42 732.07q-2.45 2.92 -2.24 -0.77" stroke-width="0.9" stroke="#303030"/><rect x="579" y="709.3" width="45" height="27" fill="#fefefe"/><path d="M590.15 712.8q-1.04 -2.76 -5.2 -0.98M619.47 729.67q2.65 -2.22 0.44 -2.23M587.42 712.87q-2.86 3.42 3.95 3.07M614.42 714.98q-1.9 1.02 2.78 3.55M617.84 712.4q1.06 1.37 0.07 -2.6M600.36 712.46q4.35 2.92 0.57 -2M619.08 724.15q3.82 2.78 0.1 -0.86M605.75 720.73q-3.39 -1.56 3.75 -4.57M581.99 725.46q-2.2 0.28 -0.35 -1.57M622.88 715.03q-0.87 -2.38 0.62 -2.24M595.3 728.38q-1.79 0.47 4.85 -3.99M582.65 715.84q2.65 0.92 -3.15 -1.69M587.63 721.41q-4.57 1.58 4.75 4.55M611.6 733.53q-4.82 -1.69 5.59 1.47M597.65 733.13q1.21 2.54 -2.48 -3.09M599.1 713.6q-1.18 3.69 -2.02 -3.8M581.93 714.4q2.84 -1.1 -2.43 -4.03M622.22 720.56q-2.92 -3.53 -5.34 -3.31M609.1 713.92q-4.59 -0.07 -3.01 4.98M585.26 723.11q2.74 -0.73 5.85 -0.22M590.4 720.24q-4.63 -0.63 -3.02 3.89M615.74 722.37q-4.68 -1.96 -3.09 -2.92M589.95 731.35q-3.58 -3.59 5.14 0.65M622.59 720.05q4.01 1.23 0.91 2.45M601.25 712.55q-2.89 2.99 4.8 4.25M594.47 726.2q3 1.14 3.78 0.28M608.15 726.9q-2.32 3.38 5.48 -4.26M621.76 733.57q1.68 -3.64 1.74 -3.72M621.65 726.45q-4.4 -2.66 1.62 0.69M612.1 732.75q-2.81 -3.97 5.07 -4.87M617.69 713.1q3.1 2.26 4.53 0.51M617.78 715.18q1.71 -1.35 4.7 2.74M600.27 723.04q-4.74 -3.73 1.13 -0.11M617.18 725.02q-3.61 -1.1 3.21 0.23M580.45 730.57q3.28 -3.32 0.52 -1.19M613.86 717.83q-2.66 -0.11 5.6 -4.05M584.92 725.33q3.85 0.1 -0.79 3.58M613.39 711.92q3.81 -2.43 -2.37 3.36M598.17 729.62q-3.33 2.99 -3.88 -3.51M601.25 718.49q0.42 3.23 2.53 -4.94M593.41 723.49q-0.13 1.72 -0.19 -4.24M590.55 730.81q-1.43 2.13 5.83 1.27M609.1 725.05q-1.87 3.3 -0.4 4.11M593.14 731.29q2.87 0.9 -0.7 -3.59M613.15 719.06q1.62 -2.93 -5.01 -3.56M614.79 714.6q4.02 -1.02 0.91 -1.5M606.7 712.56q-0.97 3.49 -3.84 1.54M594.05 717.57q-4.77 -3.84 5.39 3.3M614.45 729.84q4.53 -2.73 1.01 -0.05M604.68 733q2.6 3.75 -4.6 1.52M609.04 728.33q1.18 2.65 -2.37 4.28M597.46 724.8q3.97 1.63 -2.28 -2.7M594.04 725.47q4.96 3.19 -1.2 -0.99M615.15 717.17q-0.88 -3.89 -3.79 0.4M609.81 725.18q-1.36 3.61 1.48 -3.44M582.91 733.87q4.88 3.36 1.25 -1.88M583.93 716.54q-2.78 3.43 4.71 2.78M586.4 716.07q-2.01 3.58 -4.04 2.9M609.27 723.54q4.59 -1.9 0.29 -3.42M584.16 711.07q-1.83 -3.03 -4.66 4.93M592.43 731.84q2.02 1.85 1.86 3.16M617.77 727.71q0.6 1.55 2.68 0.52M601.61 714.03q3.44 -0.13 -5.19 -3.32M617.62 716.5q-1.09 1.46 4.34 -1.72M596.63 720.54q-4.72 3.01 -5.77 4.6M586.56 714.09q3.49 2.59 -3.22 0.54M600.5 727.69q-3.15 2.6 5.96 2.06M619.61 732.98q-1.21 2.78 3.89 0.87M584.61 725.29q4.12 -1.56 1.76 3.97" stroke-width="0.9" stroke="#303030"/><text x="281" y="89.3" font-size="23" font-family="Liberation Serif, Noto Serif CJK SC, serif" fill="#222" stroke="none" textLength="47" lengthAdjust="spacingAndGlyphs">图一</text><text x="337.6" y="89.3" font-size="22.5" font-weight="bold" font-family="Liberation Serif" fill="#222" stroke="none" textLength="137" lengthAdjust="spacingAndGlyphs">(H)GW9-15</text><text x="476.5" y="89.3" font-size="24" font-family="Liberation Serif, Noto Serif CJK SC, serif" fill="#222" stroke="none" textLength="325" lengthAdjust="spacingAndGlyphs">型隔离开关的外型及安装尺寸</text><text x="242" y="361.6" font-size="22.5" font-family="Liberation Serif, Noto Serif CJK SC, serif" fill="#222" stroke="none" textLength="45" lengthAdjust="spacingAndGlyphs">图二</text><text x="296" y="361.6" font-size="22" font-weight="bold" font-family="Liberation Serif" fill="#222" stroke="none" textLength="136.5" lengthAdjust="spacingAndGlyphs">(H)GW9-10</text><text x="437" y="361.6" font-size="23.5" font-family="Liberation Serif, Noto Serif CJK SC, serif" fill="#222" stroke="none" textLength="317" lengthAdjust="spacingAndGlyphs">型隔离开关的外型及安装尺寸</text><text x="190" y="651.8" font-size="19.5" font-family="Liberation Serif, Noto Serif CJK SC, serif" fill="#484848" stroke="none" textLength="38" lengthAdjust="spacingAndGlyphs">图三</text><text x="237" y="651.8" font-size="19.5" font-weight="bold" font-family="Liberation Serif" fill="#333" stroke="none" textLength="42.5" lengthAdjust="spacingAndGlyphs">BG9</text><text x="281.5" y="651.8" font-size="19.5" font-weight="normal" font-family="Liberation Serif" fill="#484848" stroke="none" textLength="47" lengthAdjust="spacingAndGlyphs">-12G</text><text x="338" y="651.8" font-size="20" font-family="Liberation Serif, Noto Serif CJK SC, serif" fill="#484848" stroke="none" textLength="147" lengthAdjust="spacingAndGlyphs">型隔离开关的外</text><text x="489.5" y="651.8" font-size="20" font-family="Liberation Serif, Noto Serif CJK SC, serif" fill="#484848" stroke="none" textLength="39" lengthAdjust="spacingAndGlyphs">型、</text><text x="528" y="651.8" font-size="20" font-family="Liberation Serif, Noto Serif CJK SC, serif" fill="#484848" stroke="none" textLength="163" lengthAdjust="spacingAndGlyphs">安装尺寸及接线图</text><text x="460.5" y="590" font-size="18" font-family="Liberation Serif, Noto Serif CJK SC, serif" fill="#333" stroke="none">注</text><g stroke="none" fill="#d77" opacity=".55"><circle cx="310" cy="112" r="0.8"/><circle cx="287" cy="155" r="0.8"/><circle cx="285" cy="190" r="0.8"/><circle cx="305" cy="322" r="0.8"/><circle cx="300" cy="150" r="0.8"/><circle cx="522" cy="267" r="0.8"/><circle cx="283.5" cy="145" r="0.8"/><circle cx="285" cy="154" r="0.8"/><circle cx="286.5" cy="190" r="0.8"/><circle cx="302" cy="122" r="0.8"/><circle cx="758" cy="116" r="0.8"/><circle cx="749" cy="150" r="0.8"/><circle cx="231" cy="330" r="0.8"/></g>
</g></svg>
<div id="frame"></div>
<svg id="bn" width="800" height="800" viewBox="0 0 800 800">
<defs><filter id="sh" x="-10%" y="-20%" width="120%" height="160%"><feGaussianBlur stdDeviation="3"/></filter></defs>
<path d="M210.5 13.5C221 50 250 83 300 82C350 84.6 450 85.6 500 82.5C551 83 581 50 591.5 13.5Z" fill="#333" opacity=".38" filter="url(#sh)" transform="translate(0,3)"/>
<path d="M0 0H800V14H0Z" fill="#b81f20"/>
<path d="M210.5 13.5C221 50 250 83 300 82C350 84.6 450 85.6 500 82.5C551 83 581 50 591.5 13.5Z" fill="#b81f20"/>
<path d="M622 17.6C612 17.8 603 16.4 592.2 15.2C589 25 585.5 32 581 39.5" fill="none" stroke="#222" stroke-width="1.3" opacity=".9"/>
<rect x="15" y="737" width="770" height="2.4" fill="#e39a92" opacity=".55"/>
</svg>
<div id="badge"><i></i></div>
<svg id="tx" width="800" height="800" viewBox="0 0 800 800"><g fill="#fff" font-weight="bold" font-family="Liberation Sans, Noto Sans CJK SC, sans-serif"><text x="289.5" y="60" font-size="48" letter-spacing="2">产地货源</text><text x="299" y="788" font-size="44" letter-spacing="9">快速发货</text><text x="550" y="788" font-size="44" letter-spacing="8.7">海量货源</text><text x="19" y="725" font-size="50" letter-spacing="10">支持</text><text x="19" y="774.5" font-size="50" letter-spacing="10">定制</text></g></svg>
</body></html>
